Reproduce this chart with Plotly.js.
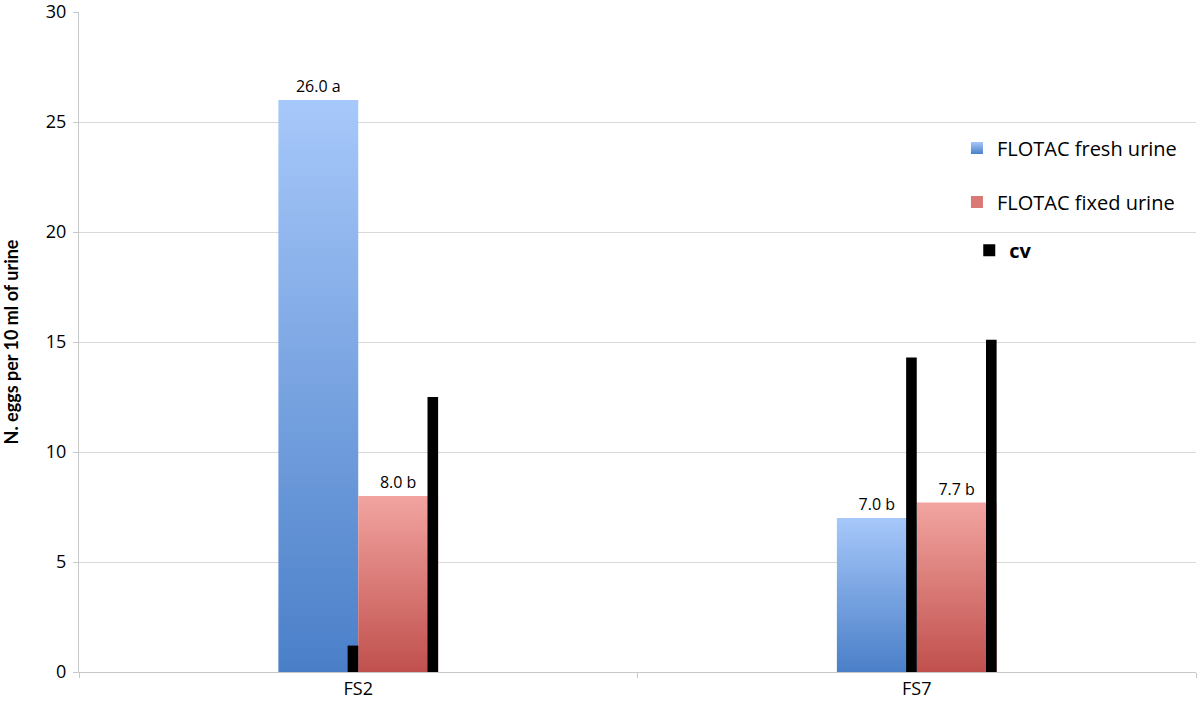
<!DOCTYPE html>
<html><head><meta charset="utf-8">
<script src="https://cdn.plot.ly/plotly-3.0.1.min.js"></script>
<style>html,body{margin:0;padding:0;background:#fff;}</style>
</head><body><div id="chart" style="width:1200px;height:708px;"></div>
<script>
// ---- data ----
const categories = ['FS2', 'FS7'];
const freshValues = [26.0, 7.0];
const freshLabels = ['26.0 a', '7.0 b'];
const fixedValues = [8.0, 7.7];
const fixedLabels = ['8.0 b', '7.7 b'];
const cvCategories = ['FS2', 'FS2', 'FS7', 'FS7'];
const cvValues = [1.2, 12.5, 14.3, 15.1];
const yTickVals = [0, 5, 10, 15, 20, 25, 30];

const barW = 0.143, cvW = 0.019;
const FONT = '"Open Sans", sans-serif';
const labelFont = {family: FONT, size: 16, color: '#000'};

const traces = [
  {type: 'bar', name: 'FLOTAC fresh urine', x: categories, y: freshValues,
   width: barW, offset: -barW, marker: {color: '#76a2e0', line: {width: 0}},
   text: freshLabels, textposition: 'outside', textfont: labelFont, cliponaxis: false,
   hoverinfo: 'skip', legend: 'legend'},
  {type: 'bar', name: 'FLOTAC fixed urine', x: categories, y: fixedValues,
   width: barW, offset: 0, marker: {color: '#d97874', line: {width: 0}},
   text: fixedLabels, textposition: 'outside', textfont: labelFont, cliponaxis: false,
   hoverinfo: 'skip', legend: 'legend2'},
  {type: 'bar', name: '<b>cv</b>', x: cvCategories, y: cvValues,
   width: cvW, offset: [-cvW, barW - cvW, -cvW, barW - cvW],
   marker: {color: '#000', line: {width: 0}}, hoverinfo: 'skip', legend: 'legend3'}
];

const legendFont = {family: FONT, size: 20, color: '#000'};
const layout = {
  width: 1200, height: 708,
  margin: {l: 79, r: 4, t: 12, b: 36},
  paper_bgcolor: '#fff', plot_bgcolor: '#fff',
  barmode: 'overlay',
  showlegend: true,
  legend: {x: 0.786, y: 0.794, xanchor: 'left', yanchor: 'middle', font: legendFont, bgcolor: 'rgba(0,0,0,0)'},
  legend2: {x: 0.786, y: 0.712, xanchor: 'left', yanchor: 'middle', font: legendFont, bgcolor: 'rgba(0,0,0,0)'},
  legend3: {x: 0.797, y: 0.639, xanchor: 'left', yanchor: 'middle', font: legendFont, bgcolor: 'rgba(0,0,0,0)'},
  xaxis: {
    type: 'category', range: [-0.5, 1.5],
    showline: true, linecolor: '#c8c8c8', linewidth: 1,
    showgrid: false, ticks: 'outside', tickson: 'boundaries', ticklen: 5, tickcolor: '#c8c8c8',
    tickfont: {family: FONT, size: 18, color: '#000'},
    zeroline: false, fixedrange: true
  },
  yaxis: {
    range: [0, 30], tickvals: yTickVals,
    showline: true, linecolor: '#c8c8c8', linewidth: 1,
    showgrid: true, gridcolor: '#d9d9d9', gridwidth: 1,
    ticks: 'outside', ticklen: 5, tickcolor: '#c8c8c8',
    ticklabeloverflow: 'allow', ticklabelstandoff: 3,
    tickfont: {family: FONT, size: 18, color: '#000'},
    zeroline: false,
    title: {text: '<b>N. eggs per 10 ml of urine</b>', standoff: 22,
            font: {family: 'Lato, "Open Sans", sans-serif', size: 18, color: '#000'}}
  }
};

Plotly.newPlot('chart', traces, layout, {displayModeBar: false, staticPlot: true}).then(function (gd) {
  const svg = gd.querySelector('svg.main-svg');
  const defs = svg.querySelector('defs');
  const ns = 'http://www.w3.org/2000/svg';
  function grad(id, top, bottom) {
    const g = document.createElementNS(ns, 'linearGradient');
    g.setAttribute('id', id);
    g.setAttribute('x1', '0'); g.setAttribute('y1', '0');
    g.setAttribute('x2', '0'); g.setAttribute('y2', '1');
    [[0, top], [1, bottom]].forEach(function (s) {
      const st = document.createElementNS(ns, 'stop');
      st.setAttribute('offset', s[0]);
      st.setAttribute('stop-color', s[1]);
      g.appendChild(st);
    });
    defs.appendChild(g);
  }
  grad('blueGrad', '#a7c8fa', '#4a7fc8');
  grad('redGrad', '#f2a4a0', '#c0504d');
  const barTraces = gd.querySelectorAll('.barlayer .trace');
  const fills = ['url(#blueGrad)', 'url(#redGrad)'];
  fills.forEach(function (f, i) {
    if (barTraces[i]) barTraces[i].querySelectorAll('path').forEach(function (p) { p.style.fill = f; });
  });
  gd.querySelectorAll('.legend').forEach(function (lg) {
    const txt = lg.textContent;
    lg.querySelectorAll('.legendpoints path').forEach(function (p) {
      if (txt.indexOf('fresh') >= 0) p.style.fill = 'url(#blueGrad)';
      else if (txt.indexOf('fixed') >= 0) p.style.fill = 'url(#redGrad)';
    });
  });
});
</script>
</body></html>
